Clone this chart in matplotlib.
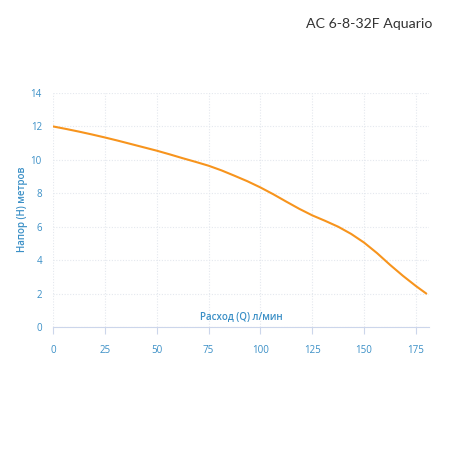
import matplotlib
matplotlib.use("Agg")
import matplotlib.pyplot as plt

flow = [0, 6.25, 12.5, 18.75, 25, 31.25, 37.5, 43.75, 50, 56.25, 62.5, 68.75, 75,
        81.25, 87.5, 93.75, 100, 106.25, 112.5, 118.75, 125, 131.25, 137.5, 143.75,
        150, 156.25, 162.5, 168.75, 175, 180]
head = [12.0, 11.85, 11.69, 11.52, 11.34, 11.15, 10.95, 10.75, 10.55, 10.33, 10.1, 9.88, 9.65,
        9.37, 9.05, 8.72, 8.35, 7.94, 7.5, 7.07, 6.68, 6.35, 6.0, 5.57, 5.05,
        4.42, 3.72, 3.06, 2.45, 2.0]
x_ticks = [0, 25, 50, 75, 100, 125, 150, 175]
y_ticks = [0, 2, 4, 6, 8, 10, 12, 14]
title = "AC 6-8-32F Aquario"
x_label = "Расход (Q) л/мин"
y_label = "Напор (H) метров"

blue = "#3a8fc6"
orange = "#f7941d"

plt.rcParams['font.family'] = ['Open Sans', 'DejaVu Sans']
fig = plt.figure(figsize=(4.5, 4.5), dpi=100)
ax = fig.add_axes([53/450, 1-327/450, (429-53)/450, (327-93)/450])
ax.plot(flow, head, color=orange, lw=1.5, solid_capstyle='round', solid_joinstyle='round')
ax.set_xlim(0, 181.3)
ax.set_ylim(0, 14)
ax.set_xticks(x_ticks)
ax.set_yticks(y_ticks)
ax.grid(True, color="#e4e8ee", ls=(0, (1, 1.5)), lw=0.8)
for s in ['top', 'right', 'left']:
    ax.spines[s].set_visible(False)
ax.spines['bottom'].set_color("#ccd6eb")
ax.tick_params(axis='x', colors="#ccd6eb", labelcolor=blue, labelsize=7, length=5, pad=8)
ax.tick_params(axis='y', length=0, labelcolor=blue, labelsize=7, pad=8)
ax.text(0.5, 0.015, x_label, transform=ax.transAxes, ha='center', va='bottom',
        color=blue, fontsize=7, fontweight='semibold')
fig.text(23/450, 1-209/450, y_label, rotation=90, ha='center', va='center',
         color=blue, fontsize=7, fontweight='semibold')
fig.text(432/450, 1-24/450, title, ha='right', va='center', fontsize=10.2,
         color="#333333", family=['Lato', 'DejaVu Sans'])
fig.savefig("out.png", dpi=100, facecolor='white')
